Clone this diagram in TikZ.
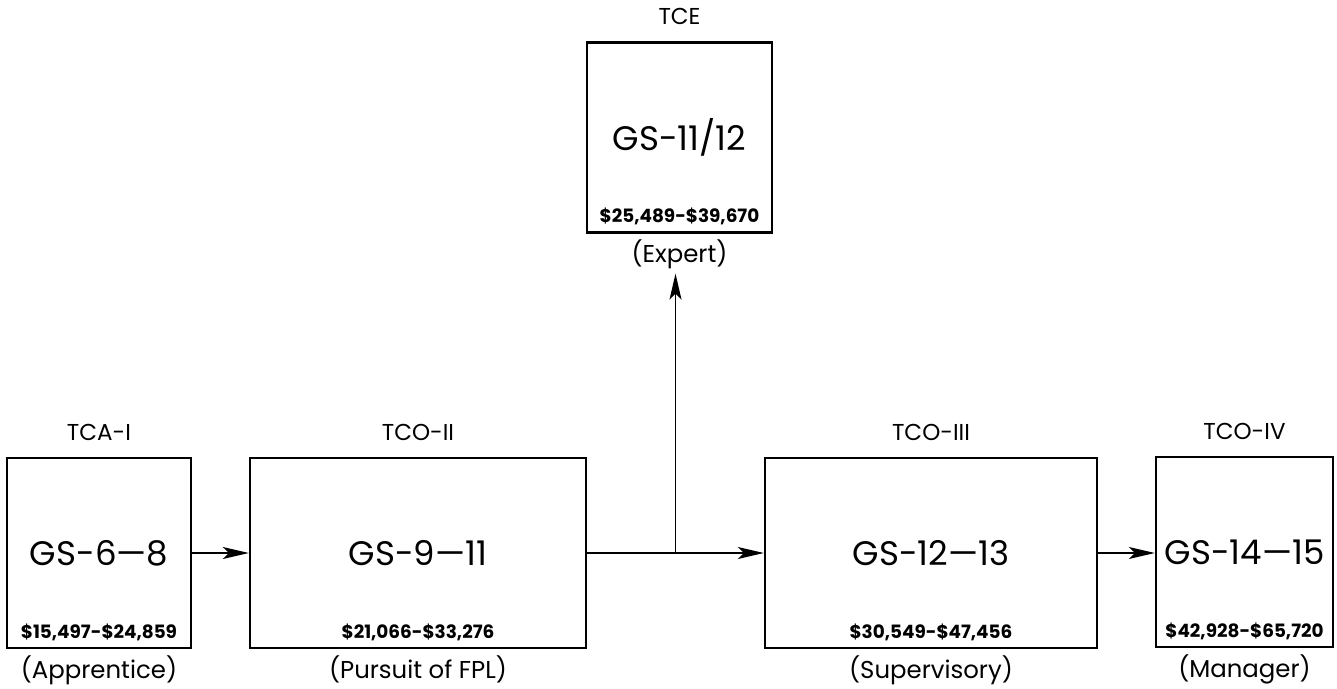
\documentclass[tikz,border=0pt]{standalone}
\usepackage{fontspec}
\setmainfont{Poppins}
\usetikzlibrary{arrows.meta, positioning, calc}

\begin{document}
\begin{tikzpicture}[x=0.5pt, y=-0.5pt,
    grade/.style={draw, line width=1.2pt, inner sep=0pt, minimum height=95pt,
      font=\fontsize{17}{20}\selectfont},
    pay/.style={font=\bfseries\fontsize{9.2}{11}\selectfont, inner sep=0pt, anchor=south},
    title/.style={font=\fontsize{11.5}{13}\selectfont, inner sep=0pt},
    role/.style={font=\fontsize{12.2}{14}\selectfont, inner sep=0pt},
    flow/.style={-{Stealth[length=13pt, width=6pt, inset=3pt]}, line width=0.8pt}]
  \useasboundingbox (0,0) rectangle (1337,689);
  % Grade boxes
  \node[grade, minimum width=92pt] (tca) at (99,553) {GS-6---8};
  \node[grade, minimum width=168pt] (tco2) at (418,553) {GS-9---11};
  \node[grade, minimum width=92.5pt] (tce) at (679.5,137.5) {GS-11/12};
  \node[grade, minimum width=166pt] (tco3) at (931,553) {GS-12---13};
  \node[grade, minimum width=88.5pt] (tco4) at (1244.5,552) {GS-14---15};
  % Pay ranges
  \node[pay] (tcapay) at ([yshift=4pt]tca.south) {\$15,497-\$24,859};
  \node[pay] (tco2pay) at ([yshift=4pt]tco2.south) {\$21,066-\$33,276};
  \node[pay] (tcepay) at ([yshift=4pt]tce.south) {\$25,489-\$39,670};
  \node[pay] (tco3pay) at ([yshift=4pt]tco3.south) {\$30,549-\$47,456};
  \node[pay] (tco4pay) at ([yshift=4pt]tco4.south) {\$42,928-\$65,720};
  % Titles
  \node[title, above=8pt of tca] (tcatitle) {TCA-I};
  \node[title, above=8pt of tco2] (tco2title) {TCO-II};
  \node[title, above=8pt of tce] (tcetitle) {TCE};
  \node[title, above=8pt of tco3] (tco3title) {TCO-III};
  \node[title, above=8pt of tco4] (tco4title) {TCO-IV};
  % Roles
  \node[role, below=3pt of tca] (tcarole) {(Apprentice)};
  \node[role, below=3pt of tco2] (tco2role) {(Pursuit of FPL)};
  \node[role, below=3pt of tce] (tcerole) {(Expert)};
  \node[role, below=3pt of tco3] (tco3role) {(Supervisory)};
  \node[role, below=3pt of tco4] (tco4role) {(Manager)};
  % Career path
  \draw[flow] (tca) -- (tco2);
  \coordinate (fork) at ($(tco2.east)!0.5!(tco3.west)$);
  \draw[flow] (tco2) -- (tco3);
  \draw[flow] (fork) -- ([yshift=-2pt]fork |- tcerole.south);
  \draw[flow] (tco3) -- (tco3.east -| tco4.west);
\end{tikzpicture}
\end{document}
